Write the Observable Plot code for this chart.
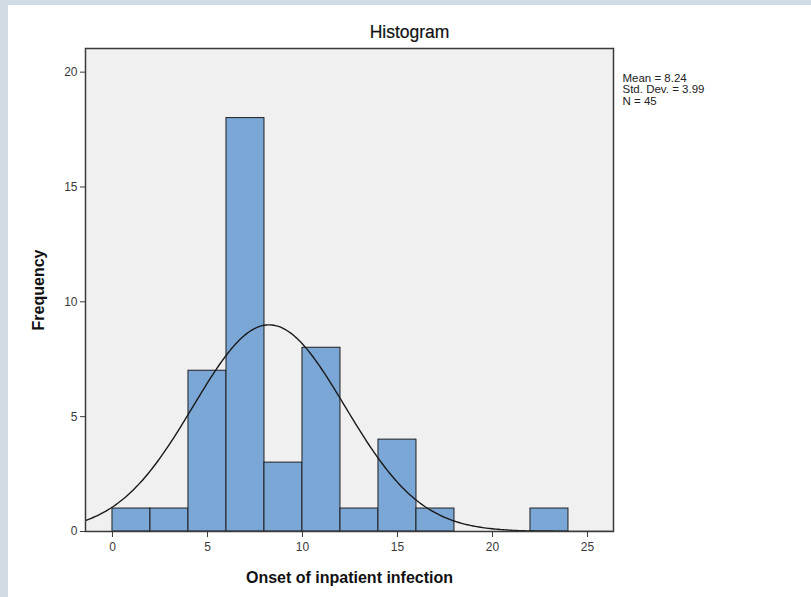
<!DOCTYPE html>
<html>
<head>
<meta charset="utf-8">
<script src="https://cdn.jsdelivr.net/npm/d3@7"></script>
<script src="https://cdn.jsdelivr.net/npm/@observablehq/plot@0.6"></script>
<style>
  html, body { margin: 0; padding: 0; }
  body { width: 811px; height: 597px; background: #d1dbe3; position: relative; overflow: hidden; font-family: "Liberation Sans", Arial, sans-serif; }
  #panel { position: absolute; left: 8px; top: 5px; width: 803px; height: 592px; background: #ffffff; }
  #title { position: absolute; left: 0; width: 803px; top: 17px; text-align: center; font-size: 17.5px; color: #111; -webkit-text-stroke: 0.2px #111; }
  #chart { position: absolute; left: 0; top: 0; }
  #chart svg { font-family: "Liberation Sans", Arial, sans-serif; }
</style>
</head>
<body>
<div id="panel">
  <div id="title">Histogram</div>
  <div id="chart"></div>
</div>
<script>
// Histogram bins (onset of inpatient infection, bin width 2)
const binStarts = [0, 2, 4, 6, 8, 10, 12, 14, 16, 18, 20, 22];
const binWidth = 2;
const counts = [1, 1, 7, 18, 3, 8, 1, 4, 1, 0, 0, 1];
// Summary statistics shown in the legend
const mean = 8.24;
const stdDev = 3.99;
const n = 45;
const xTicks = [0, 5, 10, 15, 20, 25];
const yTicks = [0, 5, 10, 15, 20];
const statsLines = ["Mean = 8.24", "Std. Dev. = 3.99", "N = 45"];
const xLabel = "Onset of inpatient infection";
const yLabel = "Frequency";

const bars = binStarts.map((s, i) => ({x1: s, x2: s + binWidth, count: counts[i]})).filter(d => d.count > 0);

// Fitted normal curve (scaled to counts) from mean and std. dev.
const xDomain = [-1.42, 26.37];
const curve = d3.range(xDomain[0], xDomain[1] + 0.001, 0.1).map(x => ({
  x,
  y: n * binWidth * Math.exp(-0.5 * ((x - mean) / stdDev) ** 2) / (stdDev * Math.sqrt(2 * Math.PI))
}));

const chart = Plot.plot({
  width: 803,
  height: 592,
  marginTop: 43,
  marginBottom: 66,
  marginLeft: 77,
  marginRight: 198,
  style: {fontSize: "12px", color: "#3a3a3a", background: "transparent"},
  x: {domain: xDomain, ticks: xTicks, tickSize: 6, tickPadding: 5, label: null},
  y: {domain: [0, 21.03], ticks: yTicks, tickSize: 5, tickPadding: 3, label: null},
  marks: [
    Plot.frame({fill: "#f0f0f0"}),
    Plot.rectY(bars, {x1: "x1", x2: "x2", y: "count", fill: "#7ba7d7", stroke: "#1e1e1e", strokeWidth: 1}),
    Plot.line(curve, {x: "x", y: "y", stroke: "#1a1a1a", strokeWidth: 1.4, clip: true}),
    Plot.frame({stroke: "#3a3a3a", strokeWidth: 1.5}),
    ...statsLines.map((line, i) => Plot.text([line], {frameAnchor: "top-right", dx: 9, dy: 25 + i * 11.5, textAnchor: "start", lineAnchor: "top", fontSize: 11.5, fill: "#222"})),
    Plot.text([xLabel], {frameAnchor: "bottom", dy: 46, lineAnchor: "middle", fontSize: 16, fontWeight: "bold", fill: "#111"}),
    Plot.text([yLabel], {frameAnchor: "left", dx: -47, rotate: -90, textAnchor: "middle", lineAnchor: "middle", fontSize: 16, fontWeight: "bold", fill: "#111"})
  ]
});
document.getElementById("chart").appendChild(chart);
</script>
</body>
</html>
